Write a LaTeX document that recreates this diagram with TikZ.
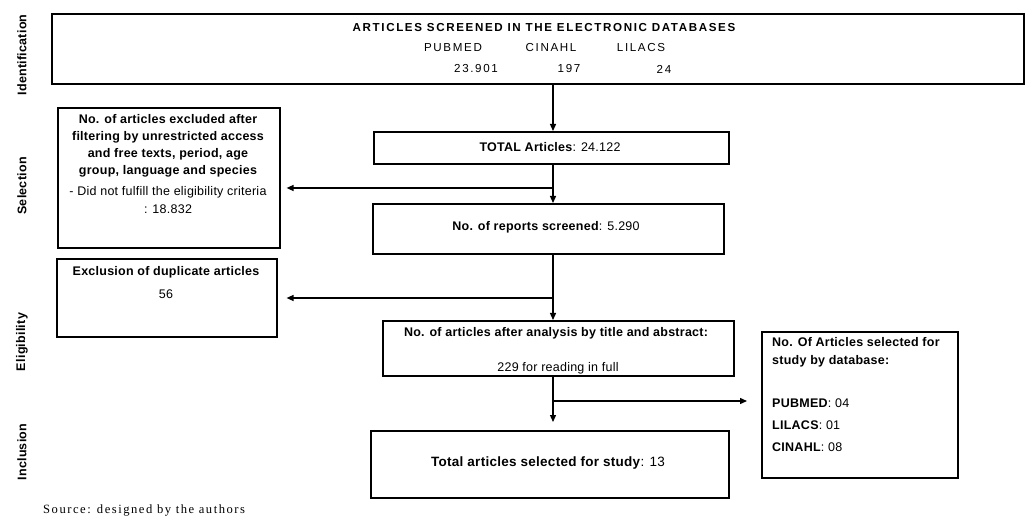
\documentclass[tikz,border=0pt]{standalone}
\usepackage{fontspec}
\setmainfont[LetterSpace=2]{Liberation Sans}
\newfontfamily\srcfont[LetterSpace=12]{Liberation Serif}
\newfontfamily\ttlfont[LetterSpace=14]{Liberation Sans}
\usetikzlibrary{arrows.meta}
\begin{document}
\begin{tikzpicture}[x=1pt,y=-1pt,
  box/.style={draw, line width=1.6pt, inner sep=0pt, anchor=north west},
  arr/.style={line width=1.3pt, -{Triangle[length=7pt,width=6pt]}},
  lab/.style={rotate=90, inner sep=0pt, font=\fontsize{12.5}{14}\selectfont\bfseries},
  tx/.style={inner sep=0pt, font=\fontsize{12.5}{14}\selectfont},
  tt/.style={inner sep=0pt, font=\fontsize{11.6}{14}\selectfont\ttlfont}
]
\useasboundingbox (0,0) rectangle (1027,518);

% boxes
\node[box, minimum width=972pt, minimum height=70pt] (top) at (51,13) {};
\node[box, minimum width=222pt, minimum height=140pt] (excl) at (57,107) {};
\node[box, minimum width=355pt, minimum height=32pt] (total) at (373,131) {};
\node[box, minimum width=351pt, minimum height=50pt] (reports) at (372,203) {};
\node[box, minimum width=220pt, minimum height=78pt] (dup) at (56,258) {};
\node[box, minimum width=351pt, minimum height=55pt] (anal) at (382,320) {};
\node[box, minimum width=196pt, minimum height=146pt] (db) at (761,331) {};
\node[box, minimum width=358pt, minimum height=67pt] (final) at (370,430) {};

% stage labels
\node[lab] (lid) at (22,55) {Identification};
\node[lab] (lsel) at (22,186) {Selection};
\node[lab] (lel) at (22,342) {Eligibility};
\node[lab] (lin) at (22,452) {Inclusion};

% top box texts
\node[tt, font=\fontsize{11.6}{14}\selectfont\ttlfont\bfseries] (ttl) at (544,28) {ARTICLES SCREENED IN THE ELECTRONIC DATABASES};
\node[tt] (pub) at (453,48) {PUBMED};
\node[tt] (cin) at (551,48) {CINAHL};
\node[tt] (lil) at (641,48) {LILACS};
\node[tt] (npub) at (476,69) {23.901};
\node[tt] (ncin) at (569,69) {197};
\node[tt] (nlil) at (664,69) {24};

% excluded box texts
\node[tx, align=center, font=\fontsize{12.5}{17}\selectfont\bfseries, anchor=north] (exclt) at (168,114)
  {No. of articles excluded after\\filtering by unrestricted access\\and free texts, period, age\\group, language and species};
\node[tx, align=center, font=\fontsize{12.5}{18}\selectfont, anchor=north] (exclb) at (168,186)
  {- Did not fulfill the eligibility criteria\\: 18.832};

\node[tx] (totalt) at (550,147) {\textbf{TOTAL Articles}: 24.122};
\node[tx] (repst) at (546,227) {\textbf{No. of reports screened}: 5.290};

\node[tx, font=\fontsize{12.5}{14}\selectfont\bfseries] (dupt) at (166,272) {Exclusion of duplicate articles};
\node[tx] (dupn) at (166,294) {56};

\node[tx, font=\fontsize{12.5}{14}\selectfont\bfseries] (analt) at (556,333) {No. of articles after analysis by title and abstract:};
\node[tx] (analn) at (558,368) {229 for reading in full};

\node[tx, align=left, anchor=north west, font=\fontsize{12.5}{18}\selectfont\bfseries] (dbt) at (772,337)
  {No. Of Articles selected for\\study by database:};
\node[tx, align=left, anchor=north west, font=\fontsize{12.5}{22}\selectfont] (dbn) at (772,399)
  {\textbf{PUBMED}: 04\\\textbf{LILACS}: 01\\\textbf{CINAHL}: 08};

\node[tx, font=\fontsize{13.5}{15}\selectfont] (finalt) at (548,463) {\textbf{Total articles selected for study}: 13};

\node[inner sep=0pt, anchor=west, font=\fontsize{12.6}{14}\selectfont\srcfont] (src) at (43,510) {Source: designed by the authors};

% connectors
\coordinate (c) at (553,0);
\coordinate (b1) at (553,188);
\coordinate (b2) at (553,298);
\coordinate (b3) at (553,401);
\draw[arr] (top.south -| c) -- (total.north -| c);
\draw[arr] (total.south -| c) -- (reports.north -| c);
\draw[arr, shorten >=6pt] (b1) -- (excl.east |- b1);
\draw[arr] (reports.south -| c) -- (anal.north -| c);
\draw[arr, shorten >=9pt] (b2) -- (dup.east |- b2);
\draw[arr, shorten >=8pt] (anal.south -| c) -- (final.north -| c);
\draw[arr, shorten >=14pt] (b3) -- (db.west |- b3);
\end{tikzpicture}
\end{document}
